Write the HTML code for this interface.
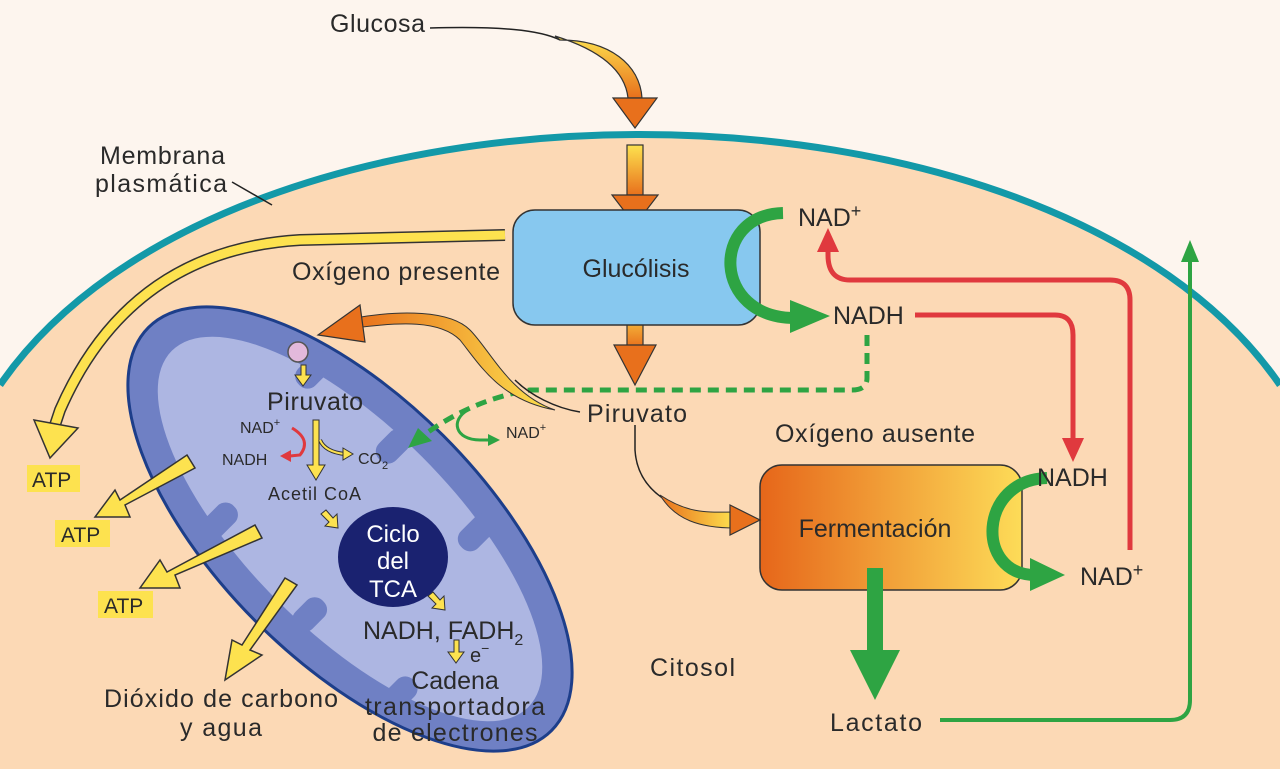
<!DOCTYPE html>
<html><head><meta charset="utf-8"><style>
html,body{margin:0;padding:0;background:#fdf5ee;overflow:hidden;width:1280px;height:769px}
svg{display:block}
text{font-family:"Liberation Sans",sans-serif;fill:#2a2a2a}
</style></head><body>
<svg width="1280" height="769" viewBox="0 0 1280 769" xmlns="http://www.w3.org/2000/svg">
<defs>
<linearGradient id="yo" x1="0" y1="0" x2="0" y2="1"><stop offset="0" stop-color="#fde24f"/><stop offset="1" stop-color="#e8701c"/></linearGradient>
<linearGradient id="ferm" x1="0" y1="0" x2="1" y2="0"><stop offset="0" stop-color="#e6661a"/><stop offset="1" stop-color="#fddc58"/></linearGradient>
<linearGradient id="py" x1="1" y1="0" x2="0" y2="0"><stop offset="0" stop-color="#fde24f"/><stop offset="1" stop-color="#e8701c"/></linearGradient>
</defs>
<rect width="1280" height="769" fill="#fdf5ee"/>
<path d="M0,385 C230,51 1050,51 1280,385 L1280,769 L0,769 Z" fill="#fcd9b5"/>
<path d="M0,385 C230,51 1050,51 1280,385" fill="none" stroke="#1399a8" stroke-width="7"/>
<line x1="232" y1="182" x2="272" y2="205" stroke="#222" stroke-width="1.5"/>

<!-- mitochondrion -->
<g transform="translate(350,529) rotate(45)">
<ellipse cx="0" cy="0" rx="285" ry="132" fill="#6f80c4" stroke="#1d3e8a" stroke-width="3"/>
<ellipse cx="0" cy="0" rx="252" ry="102" fill="#adb6e2"/>
<rect x="-150" y="-108" width="24" height="42" rx="11" fill="#6f80c4"/>
<rect x="-40" y="-108" width="24" height="38" rx="11" fill="#6f80c4"/>
<rect x="80" y="-108" width="24" height="42" rx="11" fill="#6f80c4"/>
<rect x="-110" y="66" width="24" height="42" rx="11" fill="#6f80c4"/>
<rect x="20" y="70" width="24" height="38" rx="11" fill="#6f80c4"/>
<rect x="140" y="62" width="24" height="42" rx="11" fill="#6f80c4"/>
</g>
<circle cx="298" cy="352" r="10" fill="#e3b9dc" stroke="#555" stroke-width="1.5"/>

<path d="M430,28 C500,26 540,30 560,40" fill="none" stroke="#222" stroke-width="1.5"/>
<path d="M555,36 C600,50 625,70 628,98 L642,98 C640,65 610,40 560,40 Z" fill="url(#yo)" stroke="#333" stroke-width="1.2"/>
<polygon points="613,98 657,98 635,128" fill="#e8701c" stroke="#333" stroke-width="1.2"/>
<rect x="627" y="145" width="16" height="50" fill="url(#yo)" stroke="#333" stroke-width="1.2"/>
<polygon points="612,195 658,195 635,225" fill="#e8701c" stroke="#333" stroke-width="1.2"/>
<rect x="627" y="305" width="16" height="42" fill="url(#yo)" stroke="#333" stroke-width="1.2"/>
<polygon points="614,345 656,345 635,385" fill="#e8701c" stroke="#333" stroke-width="1.2"/>

<rect x="513" y="210" width="247" height="115" rx="22" fill="#87c8ef" stroke="#333" stroke-width="1.5"/>
<text x="636" y="277" font-size="25" text-anchor="middle">Glucólisis</text>
<rect x="760" y="465" width="262" height="125" rx="22" fill="url(#ferm)" stroke="#333" stroke-width="1.5"/>
<text x="875" y="537" font-size="25" text-anchor="middle">Fermentación</text>

<path d="M783,213 C710,215 712,318 795,318" fill="none" stroke="#2ea443" stroke-width="12"/>
<polygon points="790,300 830,316 790,333" fill="#2ea443"/>
<path d="M1047,478 C978,480 975,575 1035,575" fill="none" stroke="#2ea443" stroke-width="12"/>
<polygon points="1030,558 1065,575 1030,591" fill="#2ea443"/>

<path d="M915,315 L1055,315 Q1073,315 1073,335 L1073,440" fill="none" stroke="#e0393e" stroke-width="5"/>
<polygon points="1062,438 1084,438 1073,462" fill="#e0393e"/>
<path d="M1130,550 L1130,300 Q1130,280 1110,280 L850,280 Q828,280 828,255 L828,245" fill="none" stroke="#e0393e" stroke-width="5"/>
<polygon points="817,252 839,252 828,228" fill="#e0393e"/>

<path d="M940,720 L1170,720 Q1190,720 1190,700 L1190,258" fill="none" stroke="#2ea443" stroke-width="4"/>
<polygon points="1181,262 1199,262 1190,240" fill="#2ea443"/>
<rect x="867" y="568" width="16" height="84" fill="#2ea443"/>
<polygon points="850,650 900,650 875,700" fill="#2ea443"/>

<path d="M867,335 L867,378 Q867,390 852,390 L530,390 Q470,400 420,438" fill="none" stroke="#2ea443" stroke-width="5" stroke-dasharray="11,7"/>
<polygon points="408,448 418,428 432,441" fill="#2ea443"/>
<path d="M468,410 C450,420 455,440 480,440 L492,440" fill="none" stroke="#2ea443" stroke-width="3"/>
<polygon points="488,434 500,440 488,446" fill="#2ea443"/>

<path d="M635,425 L635,450 C638,500 690,515 730,520" fill="none" stroke="#222" stroke-width="1.5"/>
<path d="M660,495 C690,515 710,512 735,512 L735,528 C700,528 675,520 660,495 Z" fill="url(#py)" stroke="#333" stroke-width="1"/>
<polygon points="730,505 760,520 730,535" fill="#e8701c" stroke="#333" stroke-width="1.2"/>

<path d="M580,412 C555,408 530,395 515,380" fill="none" stroke="#222" stroke-width="1.5"/>
<path d="M555,410 C510,395 490,350 470,330 C450,310 400,310 355,318 L355,328 C400,322 440,320 460,340 C480,365 500,400 555,410 Z" fill="url(#py)" stroke="#333" stroke-width="1"/>
<polygon points="360,305 318,335 365,342" fill="#e8701c" stroke="#333" stroke-width="1.2"/>

<path d="M505,235 L300,240 Q130,250 60,410 L55,425" fill="none" stroke="#333" stroke-width="12"/>
<path d="M505,235 L300,240 Q130,250 60,410 L55,425" fill="none" stroke="#fde24f" stroke-width="9"/>
<polygon points="34,420 78,428 50,458" fill="#fde24f" stroke="#333" stroke-width="1.5"/>

<g stroke="#333" stroke-width="1.5" fill="#fde24f">
<polygon points="187,455 195,468 125,505 130,517 95,517 115,490 120,500"/>
<polygon points="255,525 262,538 175,575 180,588 140,588 160,560 167,572"/>
<polygon points="285,578 297,585 250,650 262,655 225,680 232,640 242,645"/>
</g>
<g fill="#fde24f" stroke="#333" stroke-width="1">
<polygon points="301,365 306,365 306,375 311,375 303,386 295,375 301,375"/>
<polygon points="313,420 319,420 319,465 325,465 316,480 307,465 313,465"/>
<polygon points="321,514 326,510 333,518 337,514 338,528 325,526 329,522"/>
<polygon points="428,596 433,592 440,600 444,596 445,610 432,608 436,604"/>
<polygon points="454,640 459,640 459,652 464,652 456,663 448,652 454,652"/>
</g>
<path d="M320,440 Q325,452 345,454" fill="none" stroke="#333" stroke-width="4"/>
<path d="M320,440 Q325,452 345,454" fill="none" stroke="#fde24f" stroke-width="2"/>
<polygon points="343,448 353,454 343,460" fill="#fde24f" stroke="#333" stroke-width="1"/>
<path d="M292,428 Q312,440 300,455 L290,456" fill="none" stroke="#e0393e" stroke-width="3"/>
<polygon points="291,450 280,456 291,462" fill="#e0393e"/>
<ellipse cx="393" cy="557" rx="55" ry="50" fill="#1a2270"/>
<text x="393" y="542" font-size="24" style="fill:#fff" text-anchor="middle">Ciclo</text>
<text x="393" y="569" font-size="24" style="fill:#fff" text-anchor="middle">del</text>
<text x="393" y="597" font-size="24" style="fill:#fff" text-anchor="middle">TCA</text>

<rect x="27" y="465" width="53" height="27" fill="#fde24f"/><text x="32" y="487" font-size="21">ATP</text>
<rect x="55" y="520" width="55" height="27" fill="#fde24f"/><text x="61" y="542" font-size="21">ATP</text>
<rect x="98" y="591" width="55" height="27" fill="#fde24f"/><text x="104" y="613" font-size="21">ATP</text>

<g font-size="25">
<text x="330" y="32" textLength="95">Glucosa</text>
<text x="100" y="164" textLength="125">Membrana</text>
<text x="95" y="192" textLength="132">plasmática</text>
<text x="292" y="280" textLength="208">Oxígeno presente</text>
<text x="587" y="422" textLength="100">Piruvato</text>
<text x="775" y="442" textLength="200">Oxígeno ausente</text>
<text x="798" y="226">NAD<tspan font-size="18" dy="-9">+</tspan></text>
<text x="833" y="324">NADH</text>
<text x="1037" y="486">NADH</text>
<text x="1080" y="585">NAD<tspan font-size="18" dy="-9">+</tspan></text>
<text x="650" y="676" textLength="85">Citosol</text>
<text x="830" y="731" textLength="92">Lactato</text>
<text x="104" y="707" textLength="234">Dióxido de carbono</text>
<text x="180" y="736" textLength="82">y agua</text>
<text x="267" y="410" textLength="96">Piruvato</text>
<text x="363" y="639">NADH, FADH<tspan font-size="16" dy="6">2</tspan></text>
<text x="470" y="662" font-size="20">e<tspan font-size="14" dy="-9">−</tspan></text>
<text x="455" y="689" text-anchor="middle">Cadena</text>
<text x="455" y="715" text-anchor="middle" textLength="180">transportadora</text>
<text x="455" y="741" text-anchor="middle" textLength="165">de electrones</text>
</g>
<g font-size="16">
<text x="240" y="433">NAD<tspan font-size="11" dy="-7">+</tspan></text>
<text x="222" y="465">NADH</text>
<text x="358" y="464">CO<tspan font-size="11" dy="5">2</tspan></text>
<text x="268" y="500" font-size="18" textLength="93">Acetil CoA</text>
<text x="506" y="438">NAD<tspan font-size="11" dy="-7">+</tspan></text>
</g>
</svg>
</body></html>
